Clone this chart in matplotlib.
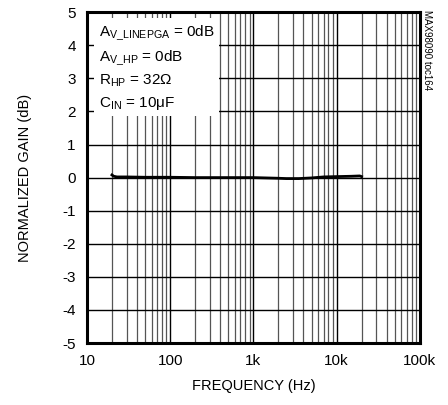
import numpy as np
import matplotlib.pyplot as plt
from matplotlib.ticker import FixedLocator, NullFormatter

plt.rcParams['font.family'] = ['Liberation Sans', 'DejaVu Sans']
plt.rcParams['mathtext.default'] = 'regular'

# curva de ganancia normalizada
freq = [20, 21, 23, 30, 50, 100, 200, 500, 1000, 2000, 2500, 3500, 5000, 7000, 10000, 15000, 19000, 20000]
gain = [0.08, 0.04, 0.02, 0.02, 0.01, 0.01, 0.0, 0.0, 0.0, -0.02, -0.03, -0.03, -0.01, 0.02, 0.03, 0.04, 0.05, 0.03]

xticks = [10, 100, 1000, 10000, 100000]
xlabels = ['10', '100', '1k', '10k', '100k']
yticks = [-5, -4, -3, -2, -1, 0, 1, 2, 3, 4, 5]

fig = plt.figure(figsize=(4.48, 4.05), dpi=100)
ax = fig.add_axes([0.194, 0.153, 0.743, 0.817])

ax.set_xscale('log')
ax.set_xlim(10, 100000)
ax.set_ylim(-5, 5)

ax.xaxis.set_major_locator(FixedLocator(xticks))
ax.set_xticklabels(xlabels)
minors = [m * d for d in [10, 100, 1000, 10000] for m in range(2, 10)]
ax.xaxis.set_minor_locator(FixedLocator(minors))
ax.xaxis.set_minor_formatter(NullFormatter())
ax.set_yticks(yticks)
ax.set_yticklabels([str(v) for v in yticks])

ax.grid(True, which='major', color='black', linewidth=1.0)
ax.grid(True, which='minor', axis='x', color='#555555', linewidth=0.9)
ax.tick_params(which='both', length=0, labelsize=11, pad=8)
for s in ax.spines.values():
    s.set_linewidth(2.2)

ax.plot(freq, gain, color='black', linewidth=2.0, zorder=3)

ax.set_xlabel('FREQUENCY (Hz)', fontsize=10.5, labelpad=8)
ax.set_ylabel('NORMALIZED GAIN (dB)', fontsize=10.5, labelpad=22)

txt = ('A$_{V\\_LINEPGA}$ = 0dB\n'
       'A$_{V\\_HP}$ = 0dB\n'
       'R$_{HP}$ = 32Ω\n'
       'C$_{IN}$ = 10μF')
ax.text(0.035, 0.965, txt, transform=ax.transAxes, fontsize=11, va='top', ha='left',
        linespacing=1.45, zorder=4,
        bbox=dict(boxstyle='square,pad=0.3', facecolor='white', edgecolor='none'))

fig.text(0.953, 0.975, 'MAX98090 toc164', rotation=270, fontsize=7, va='top', ha='center')

plt.savefig('out.png', dpi=100)
